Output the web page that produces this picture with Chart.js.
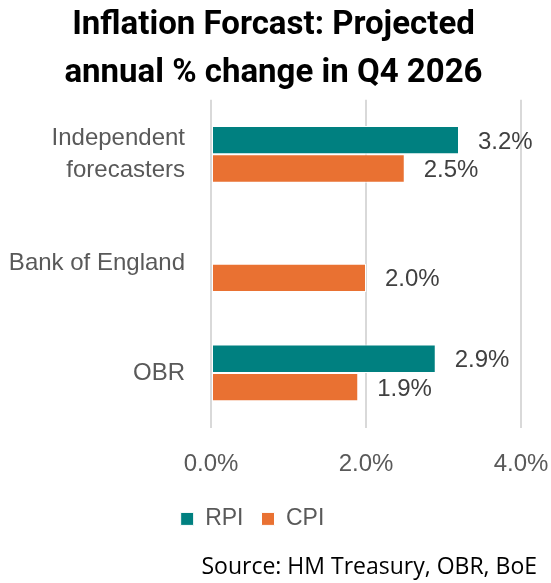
<!DOCTYPE html>
<html>
<head>
<meta charset="utf-8">
<script src="https://cdn.jsdelivr.net/npm/chart.js@4"></script>
<style>
  html, body { margin: 0; padding: 0; background: #fff; }
</style>
</head>
<body>
<canvas id="inflationChart" width="551" height="583"></canvas>
<script>
var categories = [['Independent', 'forecasters'], 'Bank of England', 'OBR'];
var rpiValues = [3.2, null, 2.9];
var cpiValues = [2.5, 2.0, 1.9];
var xTicks = [0, 2, 4];

// draws the value text just after the end of each bar
var barLabels = {
  id: 'barLabels',
  afterLayout: function(chart) {
    // legend sits a bit left of centre in the original
    chart.legend.right -= 42;
  },
  afterDatasetsDraw: function(chart) {
    var ctx = chart.ctx;
    ctx.save();
    ctx.font = '24px "Liberation Sans", Arial, sans-serif';
    ctx.fillStyle = '#404040';
    ctx.textAlign = 'left';
    ctx.textBaseline = 'middle';
    chart.data.datasets.forEach(function(ds, i) {
      chart.getDatasetMeta(i).data.forEach(function(bar, j) {
        var v = ds.data[j];
        if (v === null) return;
        ctx.fillText(v.toFixed(1) + '%', bar.x + 19, bar.y + 2);
      });
    });
    ctx.restore();
  }
};

var ctx1 = document.getElementById('inflationChart');
var myChart = new Chart(ctx1, {
  type: 'bar',
  data: {
    labels: categories,
    datasets: [{
      label: 'RPI',
      data: rpiValues,
      backgroundColor: '#008080',
      borderColor: '#ffffff',
      borderWidth: 1,
      borderSkipped: false
    }, {
      label: 'CPI',
      data: cpiValues,
      backgroundColor: '#E97132',
      borderColor: '#ffffff',
      borderWidth: 1,
      borderSkipped: false
    }]
  },
  options: {
    indexAxis: 'y',
    responsive: false,
    animation: false,
    barPercentage: 1,
    categoryPercentage: 0.52,
    layout: { padding: { left: 10, right: 14, top: 2, bottom: 2 } },
    scales: {
      x: {
        min: 0,
        max: 4,
        afterBuildTicks: function(axis) {
          axis.ticks = xTicks.map(function(v) { return { value: v }; });
        },
        afterFit: function(axis) {
          axis.paddingLeft = 0;
          axis.paddingRight = 30;
          axis.height -= 11;
        },
        grid: { color: '#d9d9d9', lineWidth: 2, drawTicks: false },
        border: { display: false },
        ticks: {
          padding: 22,
          color: '#595959',
          font: { family: '"Liberation Sans", Arial, sans-serif', size: 24 },
          callback: function(v) { return v.toFixed(1) + '%'; }
        }
      },
      y: {
        afterFit: function(axis) {
          axis.width = 201;
        },
        grid: { display: false, drawTicks: false },
        border: { display: false },
        ticks: {
          padding: 26,
          color: '#595959',
          font: { family: '"Liberation Sans", Arial, sans-serif', size: 24, lineHeight: 1.35 }
        }
      }
    },
    plugins: {
      title: {
        display: true,
        text: ['Inflation Forcast: Projected', 'annual % change in Q4 2026'],
        color: '#000000',
        font: { family: 'Roboto, sans-serif', size: 33, weight: 'bold', lineHeight: 1.45 },
        padding: { top: 0, bottom: 2 }
      },
      subtitle: {
        display: true,
        position: 'bottom',
        align: 'end',
        text: 'Source: HM Treasury, OBR, BoE',
        color: '#000000',
        font: { family: '"Open Sans", sans-serif', size: 23 },
        padding: { top: 13, bottom: 0 }
      },
      legend: {
        position: 'bottom',
        labels: {
          color: '#595959',
          boxWidth: 13,
          boxHeight: 13,
          padding: 18,
          font: { family: '"Liberation Sans", Arial, sans-serif', size: 23 }
        }
      },
      tooltip: { enabled: false }
    }
  },
  plugins: [barLabels]
});
</script>
</body>
</html>
